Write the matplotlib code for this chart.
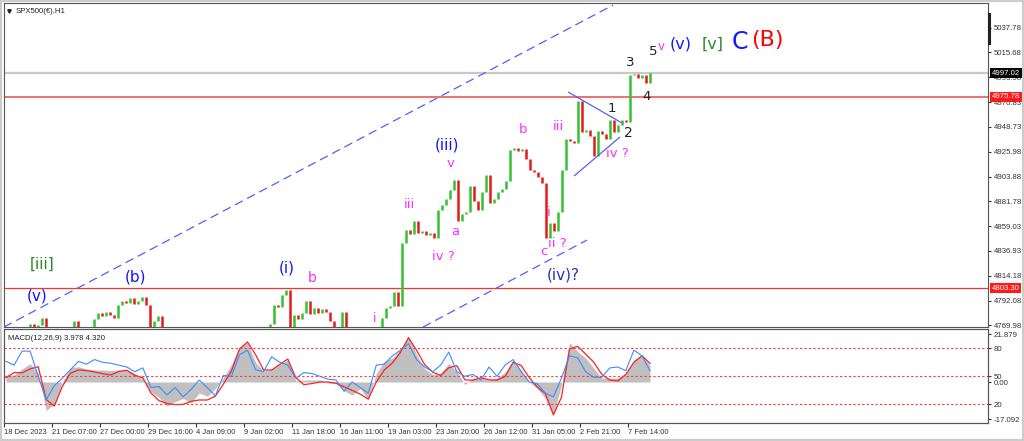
import numpy as np
import matplotlib.pyplot as plt
from matplotlib.patches import Rectangle

# hourly closes, one per bar (SPX500 H1, 18 Dec 2023 - 8 Feb 2024)
closes = [4755, 4752, 4758, 4755, 4760, 4764, 4771, 4768, 4770, 4776,
          4762, 4755, 4750, 4748, 4752, 4755, 4758, 4774, 4760, 4756,
          4762, 4766, 4775, 4781, 4778, 4782, 4779, 4776, 4788, 4792,
          4790, 4794, 4789, 4792, 4795, 4788, 4766, 4774, 4778, 4765,
          4758, 4752, 4748, 4744, 4748, 4745, 4740, 4744, 4750, 4746,
          4742, 4747, 4752, 4757, 4753, 4748, 4745, 4750, 4746, 4740,
          4738, 4742, 4748, 4752, 4756, 4762, 4771, 4788, 4786, 4797,
          4802, 4766, 4779, 4775, 4781, 4792, 4780, 4785, 4781, 4784,
          4782, 4774, 4765, 4768, 4782, 4762, 4755, 4750, 4748, 4752,
          4756, 4752, 4758, 4764, 4776, 4785, 4787, 4800, 4787, 4844,
          4856, 4852, 4864, 4853, 4855, 4851, 4853, 4848, 4874, 4878,
          4884, 4892, 4901, 4864, 4870, 4872, 4895, 4882, 4874, 4890,
          4905, 4880, 4884, 4890, 4893, 4900, 4928, 4930, 4927, 4929,
          4920, 4910, 4908, 4903, 4898, 4848, 4862, 4855, 4872, 4910,
          4938, 4936, 4934, 4972, 4944, 4946, 4940, 4922, 4945, 4942,
          4938, 4955, 4944, 4950, 4955, 4953, 4995, 4996, 4993, 4995,
          4988, 4997]

# indicator panel, read every second bar
macd_hist = [3, 3.2, 6, 8.4, 4, -13, -10, 0, 6.5, 7,
             6, 5.5, 5.5, 5.3, 5.5, 5.5, 4, 1.5, -4.5, -7,
             -11, -9, -7.5, -9.6, -5, -6.5, -3, 2, 8, 16,
             18, 9, 5, 5.8, 8, 10, 0.5, 0.9, 0.9, 0.9,
             -0.5, -0.8, -4, -6, -3, -8, 4, 9.5, 11, 15,
             21, 12.5, 6, 3.5, 4, 8.5, 5, -1.2, 1.8, 1.8,
             0.9, 1.8, 4.5, 10, 5.5, 0, -3, -7.5, -15, -1.4,
             18, 14, 11, 6.4, 1.8, 1.8, 1.8, 4, 10, 12, 7.5]
macd_signal = [2, 4.3, 4.2, 6, 7, -8, -11, -2, 4, 5.5,
               5.2, 4.6, 3.8, 3.2, 4.8, 5.4, 3, 2, -5, -8.5,
               -9.8, -10.3, -10.2, -8.8, -8.2, -8.2, -6.5, -1, 5, 15,
               18.3, 12.5, 5.5, 5.5, 8, 10.5, 2, -1.2, -0.7, 0,
               0, -0.5, -2.2, -3.8, -5.5, -7.8, 0, 5.5, 8.7, 13.5,
               20.2, 14.5, 8, 4.5, 3, 6.5, 7.5, 1, 0.8, 2,
               1, 0.9, 2.5, 9, 7.5, 2, -2.3, -5.3, -15, -7,
               15, 16.3, 12.8, 9.1, 3.5, 0.9, 0.5, 3.5, 9, 12, 8.5]
osc = [66, 62, 77, 77, 50, 25, 40, 48, 57, 66,
       63, 68, 65, 64, 62, 60, 55, 59, 38, 39,
       30, 38, 28, 36, 46, 38, 29, 51, 50, 73,
       78, 57, 55, 71, 65, 62, 48, 54, 53, 50,
       47, 46, 34, 44, 38, 32, 62, 63, 72, 78,
       85, 68, 60, 55, 62, 76, 55, 50, 52, 46,
       60, 50, 62, 68, 55, 44, 42, 32, 28, 48,
       72, 70, 55, 49, 49, 59, 60, 56, 78, 72, 56]

time_labels = ["18 Dec 2023", "21 Dec 07:00", "27 Dec 00:00", "29 Dec 16:00",
               "4 Jan 09:00", "9 Jan 02:00", "11 Jan 18:00", "16 Jan 11:00",
               "19 Jan 03:00", "23 Jan 20:00", "26 Jan 12:00", "31 Jan 05:00",
               "2 Feb 21:00", "7 Feb 14:00"]
price_ticks = [5037.78, 5015.68, 4993.58, 4970.83, 4948.73, 4925.98, 4903.88,
               4881.78, 4859.03, 4836.93, 4814.18, 4792.08, 4769.98]
last_price = 4997.02
levels = [4975.78, 4803.30]

# trend lines (bar, price) pairs
channel_up = [(-0.5, 4768.2), (151.8, 5058.5)]
channel_low = [(104.25, 4768.2), (145.25, 4846.6)]
tri_up = [(140.5, 4980.1), (154.0, 4952.1)]
tri_low = [(142.0, 4904.3), (153.5, 4939.5)]

MAG = '#ff2dff'
BLU = '#1414ff'
GRN = '#2a8a2a'
BLK = '#222222'
wave_labels = [
    ("[iii]", 9.0, 4825.0, GRN, 11), ("(v)", 7.75, 4796.1, BLU, 11),
    ("(b)", 32.25, 4813.3, BLU, 11), ("(i)", 70.25, 4821.4, BLU, 11),
    ("b", 76.5, 4812.4, MAG, 10), ("i", 92.25, 4776.3, MAG, 9),
    ("iii", 100.75, 4878.2, MAG, 9.5), ("iv ?", 109.25, 4832.2, MAG, 9.5),
    ("(iii)", 110.25, 4932.3, BLU, 11), ("v", 111.25, 4916.0, MAG, 9.5),
    ("a", 112.25, 4854.7, MAG, 9.5), ("b", 129.25, 4946.7, MAG, 9.5),
    ("iii", 138.0, 4949.4, MAG, 9.5), ("i", 135.75, 4871.0, MAG, 9.5),
    ("ii ?", 137.75, 4843.9, MAG, 9.5), ("c", 134.5, 4836.7, MAG, 9.5),
    ("(iv)?", 139.25, 4815.0, '#2233bb', 11), ("1", 151.5, 4965.6, BLK, 9.5),
    ("2", 155.5, 4943.1, BLK, 10), ("iv ?", 152.75, 4924.2, MAG, 9.5),
    ("3", 156.0, 5007.1, BLK, 9.5), ("4", 160.25, 4975.6, BLK, 9.5),
    ("5", 161.75, 5017.0, BLK, 9.5), ("v", 163.75, 5021.5, MAG, 8.5),
    ("(v)", 168.75, 5023.3, BLU, 11.5), ("[v]", 176.75, 5023.3, GRN, 11.5),
    ("C", 183.5, 5025.2, BLU, 17), ("(B)", 190.25, 5027.0, '#ff0000', 16),
]

plt.rcParams['font.family'] = ['DejaVu Sans']
SMALL = dict(family='Liberation Sans', size=5.6)
TIME = dict(family='Liberation Sans', size=5.4)

fig = plt.figure(figsize=(10.24, 4.41), dpi=100)
fig.patch.set_facecolor('white')
fig.patches.append(Rectangle((0, 0), 1, 1, transform=fig.transFigure,
                             fill=False, edgecolor='#cccccc', lw=3))

ax = fig.add_axes([4/1024, 1-327/441, 984/1024, 324/441])
axm = fig.add_axes([4/1024, 1-423/441, 984/1024, 94/441])
xlim = (-0.5, 245.5)

c = np.array(closes, float)
o = np.r_[c[0], c[:-1]]
x = np.arange(len(c))
up = c >= o
ax.vlines(x[up], o[up], c[up], color='#33c233', lw=1.8)
ax.vlines(x[~up], c[~up], o[~up], color='#e81818', lw=1.8)

ax.axhline(last_price, color='#c8c8c8', lw=1.6, zorder=0)
ax.axhline(levels[0], color='#f07070', lw=1.4, zorder=0)
ax.axhline(levels[1], color='#ff3030', lw=0.9, zorder=0)

for ln in (channel_up, channel_low, tri_up, tri_low):
    (x0, y0), (x1, y1) = ln
    ax.plot([x0, x1], [y0, y1], color='#5a5aff', lw=0.9,
            dashes=(7, 4) if ln in (channel_up, channel_low) else (1, 0))

for txt, bx, py, col, fs in wave_labels:
    ax.text(bx, py, txt, color=col, fontsize=fs, ha='center', va='center')

ax.set_xlim(*xlim)
ax.set_ylim(4768.2, 5060.3)
ax.yaxis.tick_right()
ax.set_yticks(price_ticks)
ax.set_yticklabels([f"{v:.2f}" for v in price_ticks], fontdict=SMALL)
ax.tick_params(axis='y', length=2.5, pad=1.5, colors='#333333')
ax.set_xticks([])
for s in ax.spines.values():
    s.set_color('#555555')
    s.set_linewidth(0.8)

tr = ax.get_yaxis_transform()
ax.text(1.004, last_price, f"{last_price:.2f}", transform=tr, fontdict=SMALL,
        color='white', va='center', ha='left', zorder=5,
        bbox=dict(boxstyle='square,pad=0.2', fc='black', ec='none'))
for lv in levels:
    ax.text(1.004, lv, f"{lv:.2f}", transform=tr, fontdict=SMALL,
            color='white', va='center', ha='left', zorder=5,
            bbox=dict(boxstyle='square,pad=0.2', fc='#ff1a1a', ec='none'))
ax.text(0.012, 0.975, "SPX500(€),H1", transform=ax.transAxes, fontdict=SMALL,
        color='#222222', va='center', ha='left')
ax.plot([0.0055], [0.975], marker='v', ms=2.5, color='#222222',
        transform=ax.transAxes)
fig.add_artist(plt.Line2D([988.5/1024]*2, [1-14/441, 1-43/441],
                          color='#222222', lw=2.2))

# indicator panel
xi = np.linspace(0, len(c) - 1, len(macd_hist))
axm.fill_between(xi, 0, macd_hist, color='#c0c0c0', lw=0)
axm.plot(xi, macd_signal, color='#ff2020', lw=0.9)
axm.set_xlim(*xlim)
axm.set_ylim(-18.7, 24.2)

axr = axm.twinx()
axr.set_ylim(0, 100.7)
axr.plot(xi, osc, color='#3d8bff', lw=0.8)
for lv in (80, 50, 20):
    axr.axhline(lv, color='#ff3c3c', lw=0.8, dashes=(2, 2))
axr.set_yticks([80, 50, 20])
axr.set_yticklabels(["80", "50", "20"], fontdict=SMALL)
axr.tick_params(axis='y', length=2.5, pad=1.5, colors='#333333')
axr.set_xlim(*xlim)

axm.yaxis.set_ticks_position('right')
axm.yaxis.set_label_position('right')
axm.set_yticks([21.879, 0.0, -17.092])
axm.set_yticklabels(["21.879", "0.00", "-17.092"], fontdict=SMALL)
axm.tick_params(axis='y', length=2.5, pad=1.5, colors='#333333',
                left=False, labelleft=False, right=True, labelright=True)

tick_pos = [-0.5 + 12*k for k in range(len(time_labels))]
axm.set_xticks(tick_pos)
axm.set_xticklabels(time_labels, ha='left', fontdict=TIME)
axm.tick_params(axis='x', length=3, pad=1.5, colors='#333333')
for a in (axm, axr):
    for s in a.spines.values():
        s.set_color('#555555')
        s.set_linewidth(0.8)
axm.text(0.004, 0.9, "MACD(12,26,9) 3.978 4.320", transform=axm.transAxes,
         fontdict=SMALL, color='#222222', va='center', ha='left')

fig.savefig('out.png', dpi=100)
